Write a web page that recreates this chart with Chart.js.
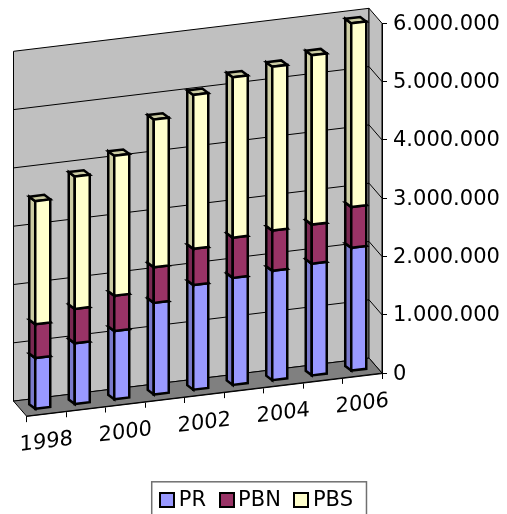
<!DOCTYPE html>
<html><head><meta charset="utf-8">
<style>html,body{margin:0;padding:0;background:#fff}#w{width:507px;height:514px}</style>
<script src="https://cdn.jsdelivr.net/npm/chart.js@4"></script>
</head><body><div id="w"><canvas id="c" width="507" height="514"></canvas></div>
<script>
const categories = ['1998','1999','2000','2001','2002','2003','2004','2005','2006'];
const PR  = [880000,1050000,1180000,1580000,1805000,1845000,1885000,1925000,2115000];
const PBN = [580000,590000,605000,610000,620000,690000,690000,670000,700000];
const PBS = [2110000,2270000,2400000,2535000,2640000,2750000,2810000,2905000,3150000];
const yTicks = [0,1000000,2000000,3000000,4000000,5000000,6000000];

const SLOPE = 43/355.5;
const WALL = {x:13, y:15};
const BAR_FRONT = {x:3.5, y:5.3};
const BAR_DEPTH = {x:6, y:4.5};
const FONT = 'DejaVu Sans';

function shear(ctx, right){ ctx.transform(1,-SLOPE,0,1,0,SLOPE*right); }
function sheared(ctx, right, fn){ ctx.save(); shear(ctx,right); fn(); ctx.restore(); }

class ShearCategoryScale extends Chart.CategoryScale {
  drawGrid(a){ sheared(this.ctx,this.chart.chartArea.right,()=>super.drawGrid(a)); }
  drawBorder(){ sheared(this.ctx,this.chart.chartArea.right,()=>super.drawBorder()); }
  drawLabels(a){ sheared(this.ctx,this.chart.chartArea.right,()=>super.drawLabels(a)); }
}
ShearCategoryScale.id='shearCategory';
ShearCategoryScale.defaults=Chart.CategoryScale.defaults;
Chart.register(ShearCategoryScale);

function poly(ctx, pts, fill, lw){
  ctx.beginPath();
  pts.forEach((p,i)=> i?ctx.lineTo(p[0],p[1]):ctx.moveTo(p[0],p[1]));
  ctx.closePath();
  if(fill){ctx.fillStyle=fill;ctx.fill();}
  ctx.lineWidth=lw;ctx.strokeStyle='#000';ctx.stroke();
}

const depth3d = {
  id:'depth3d',
  afterLayout(chart){ chart.scales.y.right = chart.width; },
  beforeDraw(chart){
    const {ctx,chartArea:a,scales:{y}}=chart;
    const R=a.right;
    const front=(x,v)=>[x, y.getPixelForValue(v)+SLOPE*(R-x)];
    const back=(x,v)=>{const p=front(x,v);return [p[0]-WALL.x,p[1]-WALL.y];};
    const max=y.max;
    ctx.save();
    poly(ctx,[back(a.left,0),back(a.left,max),back(R,max),back(R,0)],'#C0C0C0',1);
    poly(ctx,[back(R,0),back(R,max),front(R,max),front(R,0)],'#C0C0C0',1);
    poly(ctx,[back(a.left,0),back(R,0),front(R,0),front(a.left,0)],'#808080',1);
    ctx.lineWidth=1;ctx.strokeStyle='#000';
    y.ticks.forEach(t=>{
      if(t.value===0||t.value===max)return;
      const A=back(a.left,t.value),B=back(R,t.value),C=front(R,t.value);
      ctx.beginPath();ctx.moveTo(A[0],A[1]);ctx.lineTo(B[0],B[1]);ctx.lineTo(C[0],C[1]);ctx.stroke();
    });
    ctx.restore();
  },
  beforeDatasetsDraw(chart){
    const {ctx,chartArea:a}=chart;
    const R=a.right;
    ctx.save();
    ctx.lineJoin='miter';
    chart.data.datasets.forEach((ds,di)=>{
      chart.getDatasetMeta(di).data.forEach(el=>{
        const l=el.x-el.width/2,r=el.x+el.width/2;
        const P=(x,y)=>[x-BAR_FRONT.x, y+SLOPE*(R-x)-BAR_FRONT.y];
        const B=(x,y)=>{const p=P(x,y);return [p[0]-BAR_DEPTH.x,p[1]-BAR_DEPTH.y];};
        poly(ctx,[B(l,el.base),B(l,el.y),P(l,el.y),P(l,el.base)],ds.sideColor,2.5);
        poly(ctx,[B(l,el.y),B(r,el.y),P(r,el.y),P(l,el.y)],ds.sideColor,2.5);
        poly(ctx,[P(l,el.base),P(l,el.y),P(r,el.y),P(r,el.base)],ds.frontColor,2.5);
      });
    });
    ctx.restore();
    return false;
  },
  afterDraw(chart){
    const {ctx,legend}=chart;
    const h=legend.legendHitBoxes; if(!h||!h.length)return;
    ctx.save();
    const last=h[h.length-1];
    const cy=h[0].top+h[0].height/2;
    ctx.lineWidth=1.5;ctx.strokeStyle='#707070';
    ctx.strokeRect(h[0].left-8.5,cy-18.3,last.left+last.width+13.5-(h[0].left-8.5),40);
    h.forEach((b,i)=>{
      ctx.fillStyle=chart.data.datasets[i].frontColor;
      ctx.lineWidth=2;ctx.strokeStyle='#000';
      ctx.fillRect(Math.round(b.left),Math.round(cy)-7,14,14);
      ctx.strokeRect(Math.round(b.left),Math.round(cy)-7,14,14);
    });
    ctx.restore();
  }
};

new Chart(document.getElementById('c'),{
  type:'bar',
  data:{labels:categories,datasets:[
    {label:'PR',data:PR,backgroundColor:'rgba(0,0,0,0)',borderColor:'rgba(0,0,0,0)',frontColor:'#9999FF',sideColor:'#7A7ACC'},
    {label:'PBN',data:PBN,backgroundColor:'rgba(0,0,0,0)',borderColor:'rgba(0,0,0,0)',frontColor:'#993366',sideColor:'#7A2952'},
    {label:'PBS',data:PBS,backgroundColor:'rgba(0,0,0,0)',borderColor:'rgba(0,0,0,0)',frontColor:'#FFFFCC',sideColor:'#CCCCA3'}
  ]},
  plugins:[depth3d],
  options:{
    responsive:false,animation:false,
    layout:{padding:{left:26.5,right:20.3,top:23.3,bottom:-6.6}},
    datasets:{bar:{categoryPercentage:1,barPercentage:0.38}},
    plugins:{
      tooltip:{enabled:false},
      legend:{position:'bottom',labels:{boxWidth:8,boxHeight:8,padding:13.6,color:'#000',font:{family:FONT,size:21,lineHeight:1}}}
    },
    scales:{
      x:{type:'shearCategory',stacked:true,offset:true,
        grid:{drawOnChartArea:false,offset:true,tickLength:6,color:'#000',tickColor:'#000'},
        border:{color:'#000',width:1},
        ticks:{autoSkip:false,maxRotation:0,minRotation:0,padding:10,color:'#000',font:{family:FONT,size:21},
          callback:(v,i)=> i%2?'':categories[i]},
        afterFit(s){s.height=102.9;}
      },
      y:{position:'right',stacked:true,min:0,max:6000000,
        afterBuildTicks(s){s.ticks=yTicks.map(v=>({value:v}));},
        grid:{drawOnChartArea:false,tickLength:5,color:'#000',tickColor:'#000'},
        border:{color:'#000',width:1},
        ticks:{padding:6,labelOffset:1,color:'#000',font:{family:FONT,size:21},
          callback:v=>String(v).replace(/\B(?=(\d{3})+$)/g,'.')},
        afterFit(s){s.width=104.7;}
      }
    }
  }
});
</script></body></html>
